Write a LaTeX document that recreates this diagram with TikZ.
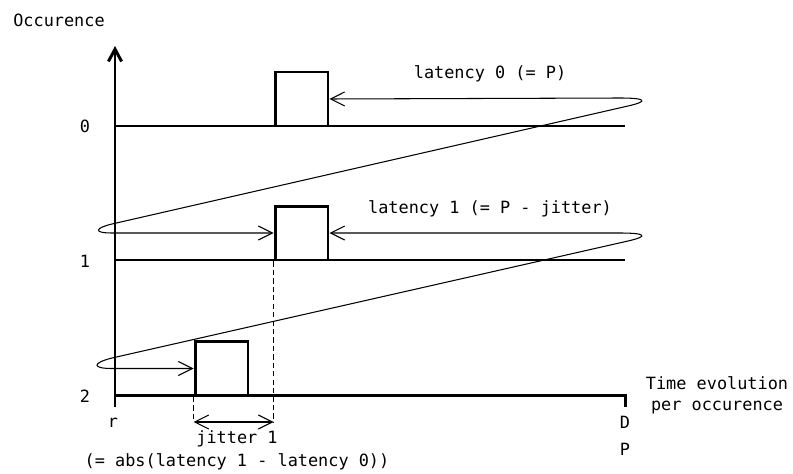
\documentclass[tikz,border=0pt]{standalone}
\usepackage{fontspec}
\setmonofont{DejaVu Sans Mono}
\usetikzlibrary{arrows.meta}

\begin{document}
\begin{tikzpicture}[x=0.02cm, y=-0.02cm,
    font=\ttfamily\fontsize{9.6}{11.9}\selectfont,
    heavy/.style={line width=1.7pt},
    slot/.style={draw, line width=1.7pt, inner sep=0pt, minimum width=1.06cm, minimum height=1.08cm},
    hop/.style={line width=0.6pt, {Straight Barb[length=8pt,width=8pt]}-{Straight Barb[length=8pt,width=8pt]}},
    guide/.style={line width=0.6pt, dash pattern=on 3pt off 1.8pt}]
  \useasboundingbox (0,0) rectangle (793,473);
  % axis and one line per occurence
  \draw[heavy, -{Straight Barb[length=7pt,width=7.5pt]}] (115,407) -- (115,46);
  \draw[heavy] (115,126) -- (625,126);
  \draw[heavy] (115,260) -- (625,260);
  \draw[heavy] (115,395) -- (625,395) -- (625,407);
  \node (occ) at (59,20) {Occurence};
  \node (n0) at (85,126) {0};
  \node (n1) at (85,261) {1};
  \node (n2) at (85,396) {2};
  \node (r) at (113,423) {r};
  \node (d) at (625,422) {D};
  \node (p) at (625,449) {P};
  \node[align=center] (time) at (717,395) {Time evolution\\per occurence};
  % the three jobs
  \node[slot] (box0) at (301.5,99) {};
  \node[slot] (box1) at (301.5,233) {};
  \node[slot] (box2) at (221.5,368.5) {};
  \node (lat0) at (490,74) {latency 0 (= P)};
  \node (lat1) at (490,209) {latency 1 (= P - jitter)};
  \draw[hop] (box1.west) -- (112,233) .. controls (92,233) and (96,227.7) .. (112,224)
    -- (628,106) .. controls (650,101) and (645,98) .. (620,98) -- (box0.east);
  \draw[hop] (box1.east) -- (620,233) .. controls (645,233) and (650,236) .. (628,241)
    -- (112,358) .. controls (92,363) and (92,368.5) .. (112,368.5) -- (box2.west);
  % jitter between occurence 1 and 2
  \coordinate (low) at (0,422);
  \coordinate (j1) at (box1.south west |- low);
  \coordinate (j2) at (box2.south west |- low);
  \draw[guide] (box1.south west) -- (j1);
  \draw[guide] (box2.south west) -- (j2);
  \draw[hop] (j2) -- (j1);
  \node (jit) at (237,439) {jitter 1};
  \node (absdiff) at (237,462) {(= abs(latency 1 - latency 0))};
\end{tikzpicture}
\end{document}
